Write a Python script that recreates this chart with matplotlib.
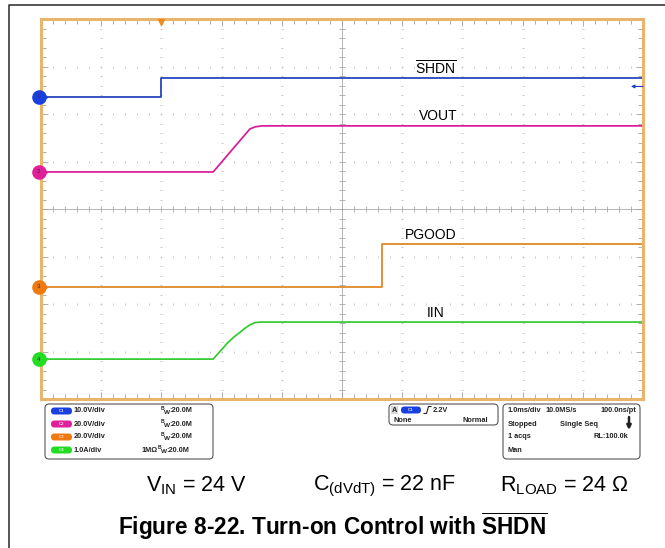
import numpy as np
import matplotlib.pyplot as plt
from matplotlib.patches import FancyBboxPatch

plt.rcParams['font.family'] = ['Liberation Sans', 'DejaVu Sans']
plt.rcParams['mathtext.fontset'] = 'custom'
plt.rcParams['mathtext.rm'] = 'Liberation Sans'
plt.rcParams['mathtext.bf'] = 'Liberation Sans:bold'

# time axis in ms, trigger at t = 0, 1.0 ms/div, 2 div of pre-trigger
t_shdn = [-2.0, 0.0, 0.0, 8.0]
v_shdn = [0.0, 0.0, 4.0, 4.0]

t_vout = [-2.0, 0.86, 1.2, 1.47, 1.56, 1.67, 8.0]
v_vout = [0.0, 0.0, 10.1, 18.1, 19.0, 19.4, 19.4]

t_pgood = [-2.0, 3.66, 3.66, 8.0]
v_pgood = [0.0, 0.0, 18.0, 18.0]

t_iin = [-2.0, 0.86, 0.95, 1.03, 1.09, 1.2, 1.31, 1.4, 1.47, 1.56, 1.67, 8.0]
i_iin = [0.0, 0.0, 0.13, 0.24, 0.33, 0.46, 0.57, 0.66, 0.72, 0.77, 0.78, 0.78]

names = ['SHDN', 'VOUT', 'PGOOD', 'IIN']
label_t = [4.21, 4.28, 4.05, 4.41]
per_div = [10.0, 20.0, 20.0, 1.0]
offsets = [2.36, 0.78, -1.64, -3.16]
trace_colors = ['#1f3fbf', '#d81b9a', '#e0841f', '#2ecc2e']
dot_colors = ['#1a3fe0', '#e0209a', '#f07a10', '#22dd22']
trig_level = 2.2

ch_rows = ['10.0V/div', '20.0V/div', '20.0V/div', '1.0A/div']
acq_rows = [('1.0ms/div', '10.0MS/s', '100.0ns/pt'),
            ('Stopped', 'Single Seq', ''),
            ('1 acqs', '', 'RL:100.0k'),
            ('Man', '', '')]

W, H = 665, 548
fig = plt.figure(figsize=(W / 100, H / 100), dpi=100)

# full-figure overlay in pixel units for the frame, readout boxes and captions
ov = fig.add_axes([0, 0, 1, 1])
ov.set_xlim(0, W)
ov.set_ylim(H, 0)
ov.axis('off')
ov.plot([9, 9, W], [H, 5, 5], color='#3a3a3a', lw=1.2, solid_capstyle='butt')

# scope screen
ax = fig.add_axes([41 / W, 1 - 399 / H, 602 / W, 380 / H])
ax.set_xlim(-2, 8)
ax.set_ylim(-4, 4)
for s in ax.spines.values():
    s.set_color('#e9b56c')
    s.set_linewidth(2.2)
    s.set_zorder(6)

minor_x = np.arange(-2, 8.001, 0.2)
minor_y = np.arange(-4, 4.001, 0.2)
ax.set_xticks(np.arange(-2, 9, 1))
ax.set_yticks(np.arange(-4, 5, 1))
ax.set_xticks(minor_x, minor=True)
ax.set_yticks(minor_y, minor=True)
ax.tick_params(which='both', direction='in', top=True, right=True,
               labelbottom=False, labelleft=False, color='#a0a0a0', width=0.6)
ax.tick_params(which='major', length=5)
ax.tick_params(which='minor', length=3.5)

grid_c = '#c8c8c8'
for gx in range(-1, 8):
    if gx == 3:
        continue
    ax.plot(np.full_like(minor_y, gx), minor_y, ls='none', marker='_', ms=2.0,
            mew=0.7, color=grid_c, zorder=1)
for gy in range(-3, 4):
    if gy == 0:
        continue
    ax.plot(minor_x, np.full_like(minor_x, gy), ls='none', marker='|', ms=2.0,
            mew=0.7, color=grid_c, zorder=1)

# center cross with minor ticks
ax.axvline(3, color='#b4b4b4', lw=0.7, zorder=1)
ax.axhline(0, color='#b4b4b4', lw=0.7, zorder=1)
ax.plot(np.full_like(minor_y, 3), minor_y, ls='none', marker='_', ms=5,
        mew=0.6, color='#a8a8a8', zorder=1)
ax.plot(minor_x, np.zeros_like(minor_x), ls='none', marker='|', ms=5,
        mew=0.6, color='#a8a8a8', zorder=1)

series = [(t_shdn, v_shdn), (t_vout, v_vout), (t_pgood, v_pgood), (t_iin, i_iin)]
for k, (tt, vv) in enumerate(series):
    y = np.asarray(vv) / per_div[k] + offsets[k]
    ax.plot(tt, y, color=trace_colors[k], lw=1.25, zorder=3)
    ax.text(label_t[k], y.max() + 0.2, names[k] if k else r'$\overline{\mathrm{SHDN}}$',
            fontsize=10, va='center', ha='left', color='black', zorder=4)
    # channel ground marker on the left edge
    ax.plot(-2.04, offsets[k], 'o', ms=9.5, color=dot_colors[k], clip_on=False, zorder=7)
    ax.plot(-1.93, offsets[k], '>', ms=3, color=dot_colors[k], clip_on=False, zorder=7)
    ax.text(-2.04, offsets[k], str(k + 1), fontsize=4.5, ha='center', va='center',
            color='#333333', zorder=8, clip_on=False)

# trigger position and level markers
ax.plot(0, 3.94, 'v', ms=5, color='#f08a1c', clip_on=False, zorder=7)
lvl = trig_level / per_div[0] + offsets[0]
ax.annotate('', xy=(7.8, lvl), xytext=(8.0, lvl),
            arrowprops=dict(arrowstyle='-|>', color=trace_colors[0], lw=0.8,
                            mutation_scale=5, shrinkA=0, shrinkB=0), zorder=7)

# readout boxes under the screen
fs = 5.3
ink = '#222222'
box_kw = dict(boxstyle='round,pad=0,rounding_size=4', fc='white', ec='#555555', lw=0.8)
ov.add_patch(FancyBboxPatch((45, 404), 168, 55, **box_kw))
ov.add_patch(FancyBboxPatch((389, 404), 109, 21, **box_kw))
ov.add_patch(FancyBboxPatch((503, 404), 137, 55, **box_kw))


def bw_text(x, y):
    # bandwidth readout: small raised B, lowered W, then the value
    ov.text(x, y - 2.2, 'B', fontsize=3.6, fontweight='bold', va='center', color=ink)
    ov.text(x + 2.6, y + 1.2, 'W', fontsize=4.6, fontweight='bold', va='center', color=ink)
    ov.text(x + 8.0, y, ':20.0M', fontsize=fs, fontweight='bold', va='center', color=ink)


row_y = [411, 424, 437, 450]
for k in range(4):
    y = row_y[k]
    ov.add_patch(FancyBboxPatch((51, y - 3.5), 21, 7,
                                boxstyle='round,pad=0,rounding_size=3.5',
                                fc=dot_colors[k], ec='none'))
    ov.text(61.5, y, 'C%d' % (k + 1), fontsize=3.2, color='#dddddd',
            ha='center', va='center', fontweight='bold')
    ov.text(74, y, ch_rows[k], fontsize=fs, fontweight='bold', va='center', color=ink)
    bw_text(161 if k < 3 else 158, y)
ov.text(142, row_y[3], '1MΩ', fontsize=fs, fontweight='bold', va='center', color=ink)

# trigger readout
ov.add_patch(FancyBboxPatch((391, 406), 7, 8, boxstyle='square,pad=0', fc='#d8d8d8', ec='none'))
ov.text(394.5, 410, 'A', fontsize=fs, fontweight='bold', ha='center', va='center', color=ink)
ov.add_patch(FancyBboxPatch((401, 406.5), 20, 7, boxstyle='round,pad=0,rounding_size=3.5',
                            fc=dot_colors[0], ec='none'))
ov.text(411, 410, 'C1', fontsize=3.2, color='#dddddd', ha='center', va='center', fontweight='bold')
ov.plot([424, 426.5, 428.5, 431], [413.5, 413.5, 406.5, 406.5], color=ink, lw=0.8)
ov.text(433, 410, '2.2V', fontsize=fs, fontweight='bold', va='center', color=ink)
ov.text(393, 420, 'None', fontsize=fs, fontweight='bold', va='center', color=ink)
ov.text(488, 420, 'Normal', fontsize=fs, fontweight='bold', va='center', ha='right', color=ink)

# acquisition readout
for k, (a, b, c) in enumerate(acq_rows):
    y = row_y[k]
    ov.text(508, y, a, fontsize=fs, fontweight='bold', va='center', color=ink)
    if b:
        bx = 546 if k == 0 else 560
        ov.text(bx, y, b, fontsize=fs, fontweight='bold', va='center', color=ink)
    if c:
        cx = 636 if k == 0 else 628
        ov.text(cx, y, c, fontsize=fs, fontweight='bold', va='center', ha='right', color=ink)
ov.annotate('', xy=(629, 430), xytext=(629, 417),
            arrowprops=dict(arrowstyle='-|>', color=ink, lw=1.8, mutation_scale=6,
                            shrinkA=0, shrinkB=0))

# test conditions and caption
ov.text(196, 486, r'$\mathrm{V_{IN}}$ = 24 V', fontsize=15.5, ha='center', va='center')
ov.text(384, 486, r'$\mathrm{C_{(dVdT)}}$ = 22 nF', fontsize=15.5, ha='center', va='center')
ov.text(564, 486, r'$\mathrm{R_{LOAD}}$ = 24 Ω', fontsize=15.5, ha='center', va='center')
ov.text(333, 526, r'Figure 8-22. Turn-on Control with $\mathbf{\overline{SHDN}}$',
        fontsize=16.3, fontweight='bold', ha='center', va='center')

fig.savefig('out.png', dpi=100)
